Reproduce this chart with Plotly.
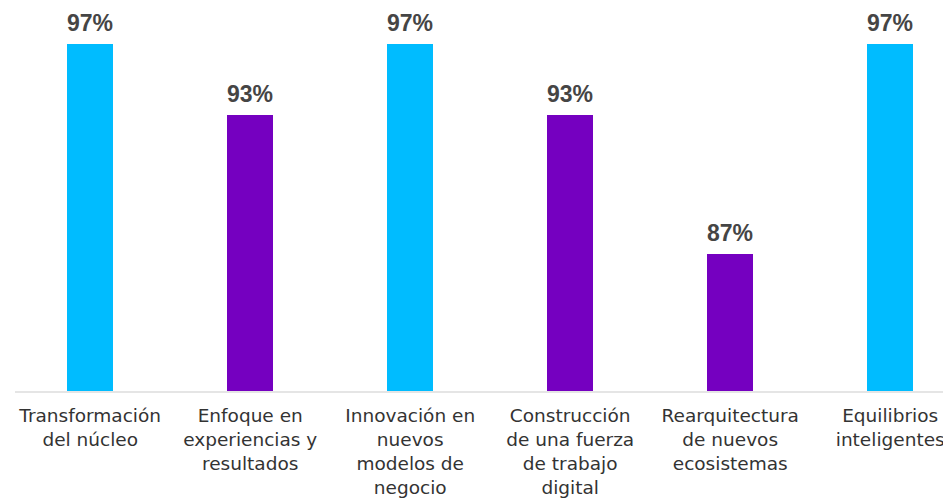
import plotly.graph_objects as go

categories = [
    "Transformación<br>del núcleo",
    "Enfoque en<br>experiencias y<br>resultados",
    "Innovación en<br>nuevos<br>modelos de<br>negocio",
    "Construcción<br>de una fuerza<br>de trabajo<br>digital",
    "Rearquitectura<br>de nuevos<br>ecosistemas",
    "Equilibrios<br>inteligentes",
]
values = [96.6, 93.4, 96.6, 93.4, 87.15, 96.6]
labels = ["97%", "93%", "97%", "93%", "87%", "97%"]
colors = ["#00BCFF", "#7500C0", "#00BCFF", "#7500C0", "#7500C0", "#00BCFF"]

fig = go.Figure()
fig.add_trace(go.Bar(
    x=list(range(len(categories))), y=values,
    marker=dict(color=colors, line=dict(width=0)),
    width=0.29,
    hoverinfo="skip",
))

for i, (v, t) in enumerate(zip(values, labels)):
    fig.add_annotation(
        x=i, y=v, text="<b>" + t + "</b>", showarrow=False,
        yanchor="bottom", yshift=6,
        font=dict(family="Liberation Sans", size=23, color="#454545"),
    )

fig.update_layout(
    width=943, height=490,
    paper_bgcolor="white",
    plot_bgcolor="white",
    margin=dict(l=7, r=0, t=0, b=107),
    showlegend=False,
    bargap=0,
)
fig.update_xaxes(
    tickmode="array", tickvals=list(range(len(categories))), ticktext=categories,
    range=[-0.47, 5.38],
    showline=True, linecolor="rgba(225,225,225,0.85)", linewidth=2,
    showgrid=False, zeroline=False, ticks="", ticklabelstandoff=7,
    tickfont=dict(family="DejaVu Sans", size=18.5, color="#333333"),
)
fig.update_yaxes(
    range=[80.96, 98.22], visible=False, showgrid=False, zeroline=False,
)

fig.write_html("out.html")
